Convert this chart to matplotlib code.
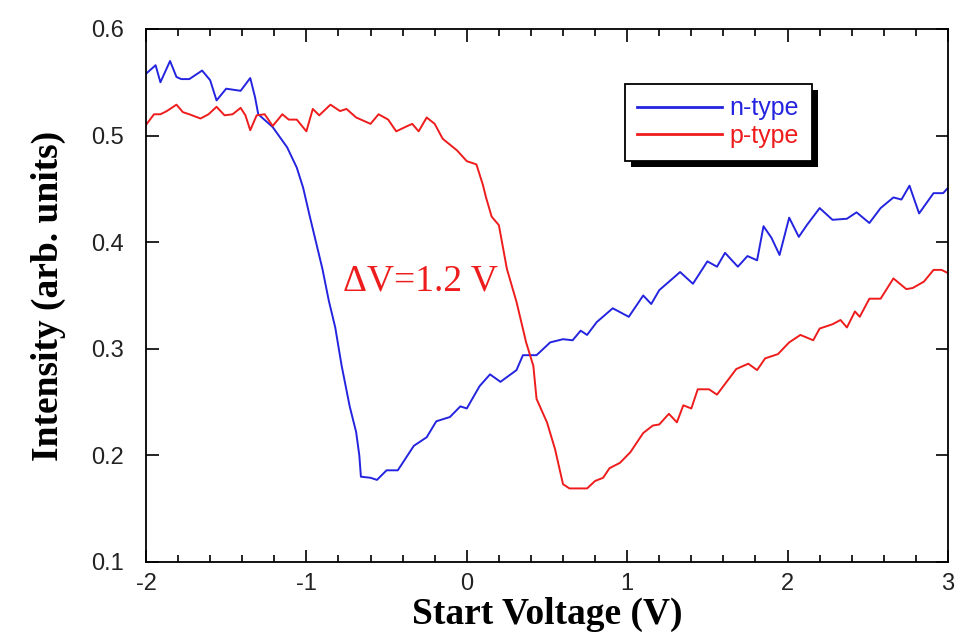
import matplotlib.pyplot as plt
import matplotlib.patheffects as pe
from matplotlib.ticker import MultipleLocator

# n-type (blue) trace
n_v = [-2.0, -1.94, -1.91, -1.85, -1.81, -1.78, -1.73, -1.65, -1.60, -1.56,
       -1.50, -1.41, -1.35, -1.32, -1.30, -1.21, -1.12, -1.06, -1.02, -0.98,
       -0.94, -0.90, -0.86, -0.82, -0.78, -0.73, -0.69, -0.67, -0.66, -0.60,
       -0.56, -0.50, -0.43, -0.33, -0.25, -0.19, -0.105, -0.04, 0.0, 0.08,
       0.145, 0.21, 0.31, 0.35, 0.435, 0.52, 0.60, 0.66, 0.71, 0.75,
       0.81, 0.91, 1.01, 1.10, 1.15, 1.20, 1.33, 1.41, 1.50, 1.56,
       1.61, 1.69, 1.75, 1.81, 1.85, 1.90, 1.95, 2.01, 2.07, 2.12,
       2.20, 2.28, 2.37, 2.43, 2.51, 2.58, 2.66, 2.71, 2.76, 2.82,
       2.91, 2.97, 3.0]
n_int = [0.558, 0.566, 0.550, 0.570, 0.555, 0.553, 0.553, 0.561, 0.552, 0.533,
         0.544, 0.542, 0.554, 0.536, 0.520, 0.508, 0.489, 0.470, 0.451, 0.425,
         0.400, 0.375, 0.345, 0.320, 0.284, 0.246, 0.222, 0.200, 0.180, 0.179,
         0.177, 0.186, 0.186, 0.209, 0.217, 0.232, 0.236, 0.246, 0.244, 0.265,
         0.276, 0.269, 0.280, 0.294, 0.294, 0.306, 0.309, 0.308, 0.317, 0.313,
         0.325, 0.338, 0.330, 0.350, 0.342, 0.355, 0.372, 0.361, 0.382, 0.377,
         0.390, 0.377, 0.387, 0.383, 0.415, 0.404, 0.388, 0.423, 0.405, 0.416,
         0.432, 0.421, 0.422, 0.428, 0.418, 0.432, 0.442, 0.440, 0.453, 0.427,
         0.446, 0.446, 0.451]

# p-type (red) trace
p_v = [-2.0, -1.95, -1.91, -1.87, -1.81, -1.77, -1.73, -1.66, -1.61, -1.56,
       -1.51, -1.46, -1.41, -1.38, -1.35, -1.31, -1.26, -1.21, -1.15, -1.11,
       -1.06, -1.0, -0.96, -0.92, -0.85, -0.79, -0.75, -0.69, -0.60, -0.55,
       -0.49, -0.44, -0.37, -0.34, -0.30, -0.25, -0.20, -0.15, -0.06, 0.0,
       0.06, 0.10, 0.12, 0.155, 0.20, 0.25, 0.31, 0.37, 0.415, 0.435,
       0.50, 0.55, 0.60, 0.64, 0.75, 0.80, 0.85, 0.89, 0.955, 1.02,
       1.10, 1.16, 1.20, 1.26, 1.31, 1.35, 1.40, 1.44, 1.51, 1.56,
       1.62, 1.68, 1.755, 1.81, 1.86, 1.94, 2.01, 2.08, 2.16, 2.20,
       2.28, 2.33, 2.37, 2.42, 2.45, 2.51, 2.58, 2.66, 2.74, 2.78,
       2.85, 2.91, 2.96, 3.0]
p_int = [0.510, 0.520, 0.520, 0.523, 0.529, 0.522, 0.520, 0.516, 0.520, 0.527,
         0.519, 0.520, 0.526, 0.519, 0.505, 0.519, 0.520, 0.509, 0.520, 0.515,
         0.515, 0.504, 0.525, 0.519, 0.529, 0.523, 0.525, 0.517, 0.511, 0.520,
         0.515, 0.504, 0.509, 0.511, 0.504, 0.517, 0.511, 0.497, 0.486, 0.476,
         0.473, 0.454, 0.442, 0.424, 0.416, 0.375, 0.344, 0.306, 0.284, 0.253,
         0.231, 0.206, 0.173, 0.169, 0.169, 0.176, 0.179, 0.188, 0.193, 0.203,
         0.221, 0.228, 0.229, 0.239, 0.231, 0.247, 0.244, 0.262, 0.262, 0.257,
         0.269, 0.281, 0.286, 0.280, 0.291, 0.295, 0.306, 0.313, 0.308, 0.319,
         0.323, 0.327, 0.320, 0.335, 0.330, 0.347, 0.347, 0.366, 0.356, 0.357,
         0.363, 0.374, 0.374, 0.371]

blue = '#2424e0'
red = '#ee1c1c'

fig = plt.figure(figsize=(9.56, 6.4), dpi=100)
ax = fig.add_axes([0.1527, 0.1219, 0.8389, 0.8328])

ax.plot(n_v, n_int, color=blue, lw=1.4, label='n-type')
ax.plot(p_v, p_int, color=red, lw=1.4, label='p-type')

ax.set_xlim(-2, 3)
ax.set_ylim(0.1, 0.6)
ax.xaxis.set_minor_locator(MultipleLocator(0.2))
ax.set_xticks([-2, -1, 0, 1, 2, 3], ['-2', '-1', '0', '1', '2', '3'])
ax.set_yticks([0.1, 0.2, 0.3, 0.4, 0.5, 0.6],
              ['0.1', '0.2', '0.3', '0.4', '0.5', '0.6'])
ax.tick_params(which='both', direction='in', top=True, right=True, width=1.2,
               labelsize=17, labelcolor='#222222')
ax.tick_params(which='major', length=9)
ax.tick_params(which='minor', length=5)
ax.tick_params(axis='y', pad=16)
ax.tick_params(axis='x', pad=8)
for lab in ax.get_xticklabels() + ax.get_yticklabels():
    lab.set_fontfamily('Liberation Sans')
for s in ax.spines.values():
    s.set_linewidth(1.3)

serif = {'family': 'Liberation Serif', 'weight': 'bold', 'size': 27}
ax.set_xlabel('Start Voltage (V)', fontdict=serif, labelpad=1)
ax.set_ylabel('Intensity (arb. units)', fontdict=serif, labelpad=18)

ax.text(-0.77, 0.363, '\u0394V=1.2 V', color=red, fontsize=27,
        family='Liberation Serif', va='center', ha='left')

leg = ax.legend(loc='upper left', bbox_to_anchor=(0.597, 0.897),
                borderaxespad=0,
                prop={'family': 'Liberation Sans', 'size': 18},
                fancybox=False, edgecolor='black', framealpha=1,
                handlelength=3.4, handletextpad=0.3, borderpad=0.5,
                labelspacing=0.15)
leg.get_frame().set_linewidth(1.3)
leg.get_frame().set_path_effects([
    pe.SimplePatchShadow(offset=(4.5, -4.5), shadow_rgbFace='black', alpha=1),
    pe.Normal()])
for line in leg.get_lines():
    line.set_linewidth(2)
for t, c in zip(leg.get_texts(), [blue, red]):
    t.set_color(c)

fig.savefig('out.png', dpi=100)
